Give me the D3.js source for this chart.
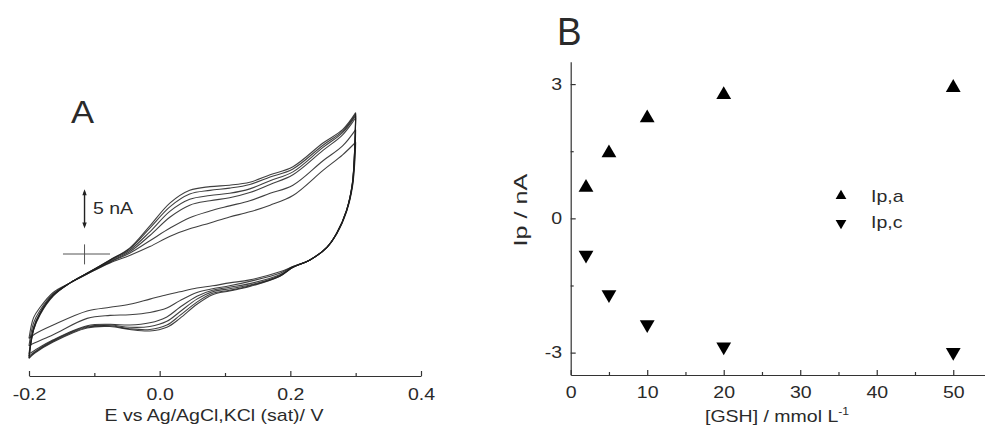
<!DOCTYPE html>
<html>
<head>
<meta charset="utf-8">
<script src="https://cdn.jsdelivr.net/npm/d3@7"></script>
<style>
  body { margin: 0; background: #fff; }
  text { font-family: "Liberation Sans", Arial, sans-serif; fill: #2a2a2a; }
</style>
</head>
<body>
<svg id="fig" width="985" height="441"></svg>
<script>
// ---- panel A : cyclic voltammograms (E / V, I / nA) ----
var potA = [-0.2, -0.193, -0.183, -0.163, -0.137, -0.111, -0.076, -0.046, -0.015, 0.016,
            0.046, 0.077, 0.107, 0.138, 0.169, 0.204, 0.25, 0.28, 0.3];
var potC = [0.3, 0.299, 0.295, 0.286, 0.271, 0.256, 0.23, 0.204, 0.184, 0.138, 0.107,
            0.081, 0.057, 0.031, 0.011, -0.015, -0.046, -0.076, -0.111, -0.163, -0.191, -0.2];
var concA = ["0", "2", "5", "10", "20", "50"]; // mmol/L GSH, one voltammogram each

// anodic (forward) sweep currents, one row per concentration
var anodicI = [
  [-11.4, -8.6, -7.2, -5.2, -3.9, -2.7, -1.2, -0.2, 1.0, 2.4, 3.4, 4.2, 5.0, 5.7, 6.6, 7.9, 11.3, 13.4, 15.1],
  [-12.4, -9.3, -7.6, -5.4, -3.9, -2.7, -1.1, 0.1, 1.8, 3.5, 4.9, 5.8, 6.5, 7.2, 8.2, 9.3, 12.6, 14.6, 16.8],
  [-13.5, -9.9, -7.9, -5.5, -3.9, -2.6, -1.0, 0.3, 2.5, 5.0, 6.6, 7.2, 7.6, 8.3, 9.4, 10.7, 14.0, 16.1, 18.4],
  [-13.8, -10.1, -8.0, -5.6, -3.9, -2.6, -0.9, 0.5, 3.0, 5.8, 7.4, 7.9, 8.2, 8.8, 9.9, 11.1, 14.4, 16.4, 18.7],
  [-14.0, -10.2, -8.1, -5.6, -3.9, -2.6, -0.8, 0.7, 3.5, 6.4, 8.1, 8.6, 8.9, 9.4, 10.4, 11.5, 14.7, 16.6, 18.9],
  [-14.1, -10.3, -8.2, -5.7, -3.9, -2.6, -0.8, 0.8, 3.8, 6.9, 8.6, 9.1, 9.3, 9.7, 10.7, 11.8, 15.0, 16.8, 19.1]
];
// cathodic (reverse) sweep currents
var cathodicI = [
  [15.1, 12.8, 9.0, 5.7, 2.7, 0.9, -0.8, -1.7, -2.4, -3.5, -3.9, -4.3, -4.6, -5.1, -5.5, -6.1, -6.8, -7.2, -7.7, -9.6, -10.8, -11.4],
  [16.8, 14.0, 9.2, 5.8, 2.8, 0.9, -0.8, -1.7, -2.6, -3.7, -4.3, -4.7, -5.2, -6.3, -7.3, -7.9, -8.2, -8.3, -8.7, -10.9, -12.0, -12.4],
  [18.4, 15.0, 9.4, 5.8, 2.8, 0.9, -0.8, -1.8, -2.8, -4.0, -4.5, -4.9, -5.7, -7.2, -8.5, -9.3, -9.6, -9.5, -9.7, -11.6, -13.0, -13.5],
  [18.7, 15.2, 9.5, 5.9, 2.8, 0.9, -0.8, -1.8, -2.9, -4.2, -4.7, -5.1, -6.1, -7.8, -9.1, -9.8, -9.9, -9.6, -9.8, -11.7, -13.2, -13.8],
  [18.9, 15.3, 9.6, 5.9, 2.8, 0.9, -0.8, -1.8, -3.0, -4.3, -4.9, -5.3, -6.5, -8.3, -9.6, -10.2, -10.1, -9.7, -9.9, -11.8, -13.3, -14.0],
  [19.1, 15.4, 9.6, 5.9, 2.8, 0.9, -0.8, -1.8, -3.0, -4.4, -5.0, -5.5, -6.8, -8.7, -9.9, -10.4, -10.2, -9.8, -10.0, -11.9, -13.4, -14.1]
];
var ticksA = [-0.2, 0.0, 0.2, 0.4];
var minorA = [-0.1, 0.1, 0.3];

// ---- panel B : peak currents vs [GSH] ----
var gsh = [2, 5, 10, 20, 50];
var ipa = [0.69, 1.46, 2.24, 2.76, 2.92];
var ipc = [-0.82, -1.70, -2.37, -2.87, -2.99];
var ticksBx = [0, 10, 20, 30, 40, 50];
var minorBx = [5, 15, 25, 35, 45, 55];
var ticksBy = [-3, 0, 3];
var minorBy = [-1.5, 1.5];

var S = 1.22; // the figure's text is a bit wide, stretch it horizontally
var svg = d3.select("#fig");

function label(g, x, y, txt, size, anchor, sx) {
  return g.append("text")
    .attr("transform", "translate(" + x + "," + y + ") scale(" + (sx || S) + ",1)")
    .attr("text-anchor", anchor || "start")
    .style("font-size", size + "px")
    .text(txt);
}

// =============== panel A ===============
var xA = d3.scaleLinear().domain([-0.2, 0.4]).range([29, 421]);
var yA = d3.scaleLinear().domain([-15, 20]).range([365, 106]);
var gA = svg.append("g");

var line = d3.line()
  .x(function(d) { return xA(d[0]); })
  .y(function(d) { return yA(d[1]); })
  .curve(d3.curveCatmullRom.alpha(0.5));

concA.forEach(function(c, i) {
  var fwd = potA.map(function(e, j) { return [e, anodicI[i][j]]; });
  var rev = potC.map(function(e, j) { return [e, cathodicI[i][j]]; });
  [fwd, rev].forEach(function(pts) {
    gA.append("path")
      .attr("d", line(pts))
      .attr("fill", "none")
      .attr("stroke", "#1e1e1e")
      .attr("stroke-opacity", 0.85)
      .attr("stroke-width", 1.1);
  });
});

// x axis (ticks point inward)
var axA = gA.append("g").attr("transform", "translate(0,376)")
  .call(d3.axisBottom(xA).tickValues(ticksA).tickSize(-5).tickSizeOuter(0).tickPadding(12.6)
    .tickFormat(function(d) { return d.toFixed(1); }));
axA.append("g").call(d3.axisBottom(xA).tickValues(minorA).tickSize(-3).tickFormat(""))
  .select(".domain").remove();
axA.selectAll("path, line").attr("stroke", "#333").attr("stroke-width", 1.2);
axA.selectAll(".tick text").attr("transform", "scale(" + S + ",1)")
  .style("font-size", "16px").attr("fill", "#333").style("font-family", null);
label(gA, 214, 421, "E vs Ag/AgCl,KCl (sat)/ V", 16, "middle");
label(gA, 71, 123, "A", 32, "start", 1.08);

// current scale bar and zero cross
var e0 = -0.115;
gA.append("line").attr("x1", xA(e0)).attr("x2", xA(e0))
  .attr("y1", yA(8.4)).attr("y2", yA(3.8)).attr("stroke", "#222").attr("stroke-width", 1.4);
[[8.75, -1], [3.45, 1]].forEach(function(a) {
  var x = xA(e0), y = yA(a[0]);
  gA.append("path")
    .attr("d", "M" + x + "," + y + "L" + (x - 2.2) + "," + (y - a[1] * 6) + "L" + (x + 2.2) + "," + (y - a[1] * 6) + "Z")
    .attr("fill", "#222");
});
label(gA, 93, 214, "5 nA", 16, "start");
gA.append("line").attr("x1", xA(-0.148)).attr("x2", xA(-0.076))
  .attr("y1", yA(0)).attr("y2", yA(0)).attr("stroke", "#555").attr("stroke-width", 1);
gA.append("line").attr("x1", xA(e0)).attr("x2", xA(e0))
  .attr("y1", yA(1.3)).attr("y2", yA(-1.4)).attr("stroke", "#555").attr("stroke-width", 1);

// =============== panel B ===============
var xB = d3.scaleLinear().domain([0, 55]).range([570.7, 991.5]);
var yB = d3.scaleLinear().domain([-3.5, 3.5]).range([375, 61.7]);
var gB = svg.append("g");

var axBx = gB.append("g").attr("transform", "translate(0,375)")
  .call(d3.axisBottom(xB).tickValues(ticksBx).tickSize(-5).tickSizeOuter(0).tickPadding(11.6)
    .tickFormat(function(d) { return String(d); }));
axBx.append("g").call(d3.axisBottom(xB).tickValues(minorBx).tickSize(-3).tickFormat(""))
  .select(".domain").remove();
var axBy = gB.append("g").attr("transform", "translate(570.7,0)")
  .call(d3.axisLeft(yB).tickValues(ticksBy).tickSize(-5).tickSizeOuter(0).tickPadding(8.7 / S)
    .tickFormat(function(d) { return String(d); }));
axBy.append("g").call(d3.axisLeft(yB).tickValues(minorBy).tickSize(-3).tickFormat(""))
  .select(".domain").remove();
gB.selectAll("path.domain, .tick line").attr("stroke", "#333").attr("stroke-width", 1.2);
gB.selectAll(".tick text").attr("transform", "scale(" + S + ",1)")
  .style("font-size", "16px").attr("fill", "#333").style("font-family", null);

var tri = d3.symbol().type(d3.symbolTriangle).size(95);
gB.selectAll("path.ipa").data(gsh).enter().append("path").attr("class", "ipa")
  .attr("d", tri)
  .attr("transform", function(d, i) { return "translate(" + xB(d) + "," + yB(ipa[i]) + ")"; })
  .attr("fill", "#000");
gB.selectAll("path.ipc").data(gsh).enter().append("path").attr("class", "ipc")
  .attr("d", tri)
  .attr("transform", function(d, i) { return "translate(" + xB(d) + "," + yB(ipc[i]) + ") rotate(180)"; })
  .attr("fill", "#000");

// legend
var triSmall = d3.symbol().type(d3.symbolTriangle).size(50);
gB.append("path").attr("d", triSmall).attr("transform", "translate(841,196)").attr("fill", "#000");
gB.append("path").attr("d", triSmall).attr("transform", "translate(841,223) rotate(180)").attr("fill", "#000");
label(gB, 871, 202, "Ip,a", 16, "start");
label(gB, 871, 228, "Ip,c", 16, "start");

// axis titles
var xt = gB.append("text")
  .attr("transform", "translate(705,421.5) scale(" + S + ",1)")
  .style("font-size", "16px");
xt.append("tspan").text("[GSH] / mmol L");
xt.append("tspan").attr("dy", -7).style("font-size", "10px").text("-1");
gB.append("text")
  .attr("transform", "translate(527,210) rotate(-90) scale(1.4,1)")
  .attr("text-anchor", "middle")
  .style("font-size", "18px")
  .text("Ip / nA");
label(gB, 557, 45, "B", 38, "start", 0.97);
</script>
</body>
</html>
